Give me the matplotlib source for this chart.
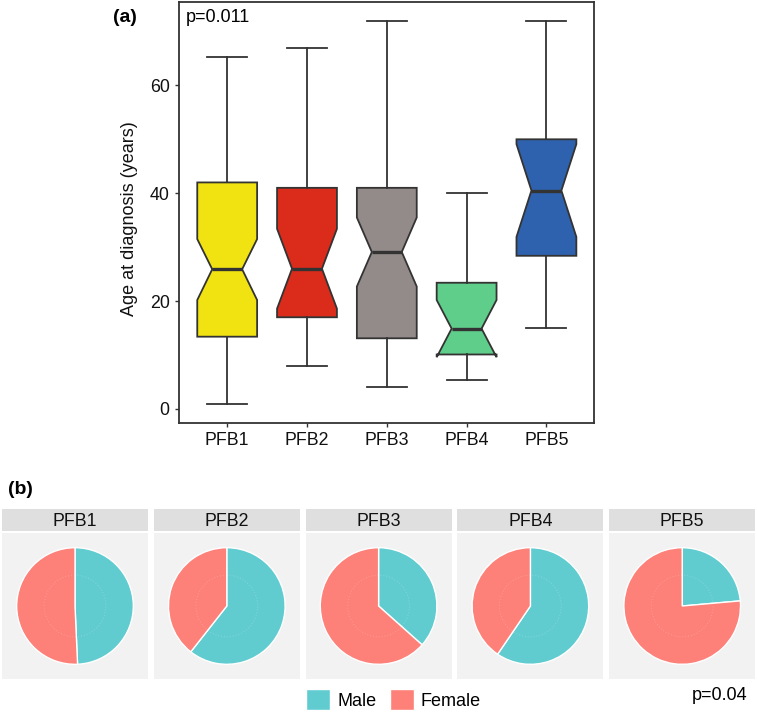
import numpy as np
import matplotlib
matplotlib.use('Agg')
import matplotlib.pyplot as plt
from matplotlib.patches import Patch, Circle

plt.rcParams['font.family'] = ['Liberation Sans', 'DejaVu Sans']

# --- data ---
groups = ['PFB1', 'PFB2', 'PFB3', 'PFB4', 'PFB5']
box_colors = ['#F1E311', '#DB2B1B', '#938B89', '#5FCE8A', '#2F62AE']

whis_lo = [1.0, 8.0, 4.0, 5.3, 15.0]
q1 = [13.4, 17.0, 13.1, 10.1, 28.4]
median = [25.9, 26.0, 29.1, 14.9, 40.5]
q3 = [42.0, 41.0, 41.0, 23.4, 50.0]
whis_hi = [65.2, 67.0, 72.0, 40.0, 72.0]
notch_lo = [20.2, 18.6, 22.7, 9.6, 31.9]
notch_hi = [31.5, 33.4, 35.5, 20.2, 49.1]

male_pct = [49.3, 60.6, 36.6, 59.5, 23.6]
female_pct = [50.7, 39.4, 63.4, 40.5, 76.4]
sex_labels = ['Male', 'Female']
sex_colors = ['#60CCD0', '#FD8079']

W, H = 757, 716
fig = plt.figure(figsize=(W / 100, H / 100), dpi=100)

def fx(px):
    return px / W

def fy(py):
    return 1 - py / H

# --- (a) notched boxplot ---
ax = fig.add_axes([fx(179.3), fy(422.7), fx(594.3 - 179.3), (422.7 - 1.5) / H])
stats = []
for i in range(len(groups)):
    stats.append(dict(med=median[i], q1=q1[i], q3=q3[i], whislo=whis_lo[i], whishi=whis_hi[i],
                      cilo=notch_lo[i], cihi=notch_hi[i], fliers=[], label=groups[i]))
line_col = '#333333'
bp = ax.bxp(stats, positions=range(1, len(groups) + 1), widths=0.75, capwidths=0.5,
            shownotches=True, patch_artist=True, showfliers=False,
            boxprops=dict(edgecolor=line_col, linewidth=1.3),
            whiskerprops=dict(color=line_col, linewidth=1.3),
            capprops=dict(color=line_col, linewidth=1.3),
            medianprops=dict(color=line_col, linewidth=2.4))
for patch, c in zip(bp['boxes'], box_colors):
    patch.set_facecolor(c)

ax.set_xlim(0.4, 5.6)
ax.set_ylim(-2.55, 75.55)
ax.set_yticks([0, 20, 40, 60])
ax.tick_params(axis='both', labelsize=12.8, colors=line_col, labelcolor='#111111', length=3, width=1.0, pad=4)
for s in ax.spines.values():
    s.set_color(line_col)
    s.set_linewidth(1.3)
ax.set_ylabel('Age at diagnosis (years)', fontsize=13, color='#111111', va='center')
ax.yaxis.set_label_coords((129 - 179.3) / 415, 0.485)
ax.text(fx(186), fy(18), 'p=0.011', transform=fig.transFigure, fontsize=13, va='center', ha='left')
fig.text(fx(113), fy(17), '(a)', fontsize=14, fontweight='bold', va='center', ha='left')

# --- (b) pies, one facet per group ---
fig.text(fx(8), fy(490), '(b)', fontsize=14, fontweight='bold', va='center', ha='left')
pitch = 151.8
for i, g in enumerate(groups):
    x0 = 2 + i * pitch
    sax = fig.add_axes([fx(x0), fy(531), fx(146), 22 / H])
    sax.set_facecolor('#E0DFE0')
    sax.set_xticks([])
    sax.set_yticks([])
    for s in sax.spines.values():
        s.set_visible(False)
    sax.text(0.5, 0.45, g, ha='center', va='center', fontsize=12.8, color='#111111')

    pax = fig.add_axes([fx(x0), fy(679), fx(146), 146 / H])
    pax.pie([male_pct[i], female_pct[i]], colors=sex_colors, startangle=90, counterclock=False,
            radius=1, frame=True, wedgeprops=dict(edgecolor='white', linewidth=1.0))
    # faint polar grid ring
    pax.add_patch(Circle((0, 0), 0.53, fill=False, edgecolor='white', alpha=0.18, linestyle=':', linewidth=0.8))
    pax.set_facecolor('#F2F2F2')
    pax.set_xlim(-1.252, 1.252)
    pax.set_ylim(-1.252, 1.252)
    pax.set_aspect('equal')
    pax.set_xticks([])
    pax.set_yticks([])
    for s in pax.spines.values():
        s.set_visible(False)

handles = [Patch(facecolor=c, edgecolor='white', label=l) for c, l in zip(sex_colors, sex_labels)]
fig.legend(handles=handles, loc='center', bbox_to_anchor=(fx(393.4), fy(699.5)), ncol=2, frameon=False,
           fontsize=13, handlelength=1.33, handleheight=1.33, handletextpad=0.37, columnspacing=0.74,
           borderpad=0)
fig.text(fx(747), fy(695), 'p=0.04', fontsize=13, ha='right', va='center')

fig.savefig('out.png', dpi=100)
